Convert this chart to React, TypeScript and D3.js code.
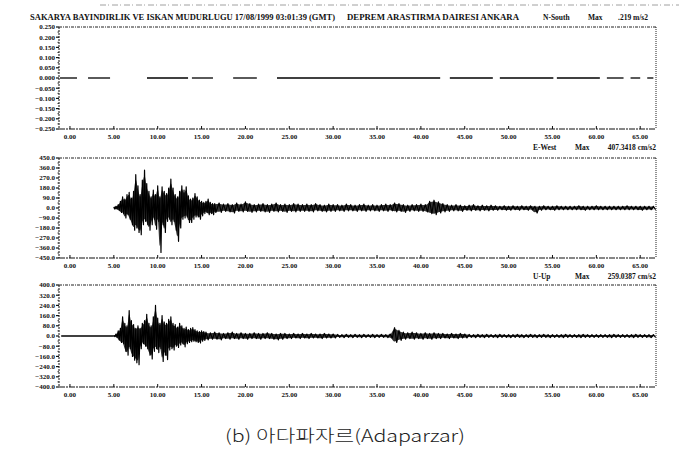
import React from "react";
import * as d3 from "d3";

const W = 679;
const H = 454;

// time axis (s)
const timeTicks = [0, 5, 10, 15, 20, 25, 30, 35, 40, 45, 50, 55, 60, 65];

// y tick labels per panel
const nsTicks = [0.25, 0.2, 0.15, 0.1, 0.05, 0, -0.05, -0.1, -0.15, -0.2, -0.25];
const ewTicks = [450, 360, 270, 180, 90, 0, -90, -180, -270, -360, -450];
const udTicks = [400, 320, 240, 160, 80, 0, -80, -160, -240, -320, -400];

// N-S component: flat trace, surviving segments of the scan [start s, end s]
const nsSegments = [
  [-1.14, 0.8], [2.06, 4.57], [8.78, 13.46], [13.9, 16.3], [18.6, 21.3],
  [23.6, 42.2], [43.3, 48.2], [49.0, 55.1], [55.5, 60.4], [61.2, 63.1],
  [63.9, 65.0], [65.8, 66.5],
];

// E-W component (gal) strong motion, 0.25 s bins from 5.0 s
const ewStrongStart = 5.0;
const ewStrongStep = 0.25;
const ewStrongHi = [10, 15, 30, 60, 100, 80, 120, 140, 90, 150, 300, 200, 120, 250, 340, 220, 150, 100, 160, 120, 200, 100, 190, 150, 130, 180, 260, 180, 120, 100, 150, 200, 160, 190, 110, 80, 90, 130, 100, 70, 60, 50, 60, 80, 50, 40, 40];
const ewStrongLo = [-10, -10, -20, -40, -50, -90, -60, -100, -150, -200, -180, -220, -240, -150, -120, -150, -200, -150, -100, -190, -120, -400, -150, -220, -120, -100, -150, -120, -200, -300, -180, -100, -90, -80, -130, -130, -100, -80, -80, -100, -70, -50, -40, -60, -50, -60, -40];
// E-W coda, 0.5 s bins from 17.0 s
const ewCodaStart = 17.0;
const ewCodaStep = 0.5;
const ewCodaHi = [
  45, 35, 40, 30, 45, 35, 55, 40, 30, 35,
  40, 30, 35, 45, 30, 35, 30, 40, 35, 30,
  35, 30, 40, 30, 25, 35, 30, 30, 25, 35,
  30, 25, 30, 35, 25, 30, 25, 30, 35, 30,
  45, 40, 30, 25, 30, 30, 35, 30, 60, 70,
  55, 40, 30, 25, 30, 25, 20, 25, 30, 20,
  25, 20, 25, 20, 15, 20, 15, 20, 15, 20,
  15, 20, 15, 15, 20, 15, 15, 20, 15, 15,
  15, 15, 20, 15, 15, 15, 20, 15, 15, 15,
  15, 15, 15, 20, 15, 15, 15, 15, 15, 15,
];
const ewCodaLo = [
  -40, -30, -35, -45, -30, -35, -30, -40, -35, -30,
  -35, -40, -30, -35, -30, -40, -30, -35, -30, -30,
  -30, -35, -25, -30, -35, -30, -30, -25, -30, -25,
  -25, -30, -25, -30, -25, -25, -30, -25, -30, -25,
  -35, -30, -40, -30, -25, -30, -30, -35, -50, -60,
  -45, -35, -30, -25, -25, -30, -20, -25, -20, -25,
  -20, -25, -20, -20, -15, -20, -20, -15, -20, -15,
  -20, -15, -45, -20, -15, -15, -20, -15, -15, -15,
  -15, -15, -15, -20, -15, -15, -15, -15, -15, -15,
  -15, -15, -15, -15, -15, -15, -20, -15, -15, -15,
];

// Up-Down component (gal)
const udPreEvent = [-1.0, 5.0];
const udStrongStart = 5.0;
const udStrongStep = 0.25;
const udStrongHi = [5, 15, 40, 60, 150, 100, 80, 200, 120, 90, 60, 80, 60, 100, 120, 170, 100, 80, 150, 240, 140, 100, 160, 110, 100, 130, 150, 100, 90, 70, 100, 80, 60, 70, 50, 60, 65, 50, 40, 35, 40, 35];
const udStrongLo = [-5, -10, -30, -50, -60, -120, -150, -100, -160, -190, -210, -225, -100, -60, -80, -100, -150, -180, -120, -100, -130, -100, -200, -150, -185, -110, -100, -110, -80, -90, -70, -60, -85, -60, -50, -45, -40, -45, -50, -55, -40, -35];
const udCodaStart = 15.5;
const udCodaStep = 0.5;
const udCodaHi = [
  30, 25, 30, 25, 20, 25, 30, 20, 25, 20,
  20, 25, 20, 20, 25, 20, 15, 20, 20, 15,
  20, 15, 20, 15, 20, 15, 15, 20, 15, 15,
  12, 10, 12, 10, 12, 10, 12, 10, 12, 10,
  12, 10, 15, 65, 45, 30, 25, 30, 25, 20,
  25, 20, 25, 20, 20, 15, 20, 15, 20, 15,
  12, 10, 12, 10, 12, 10, 10, 12, 10, 10,
  10, 12, 10, 10, 12, 10, 10, 12, 10, 10,
  10, 10, 12, 10, 10, 10, 12, 10, 10, 10,
  10, 10, 10, 12, 10, 10, 10, 10, 12, 10,
  10, 10, 10,
];
const udCodaLo = [
  -30, -25, -25, -30, -20, -25, -20, -25, -20, -25,
  -20, -20, -25, -20, -20, -25, -30, -25, -20, -20,
  -15, -20, -15, -20, -15, -15, -20, -15, -15, -15,
  -10, -12, -10, -12, -10, -12, -10, -10, -12, -10,
  -10, -12, -15, -50, -35, -25, -20, -25, -20, -25,
  -20, -25, -20, -20, -15, -20, -15, -20, -15, -15,
  -10, -12, -10, -12, -10, -10, -12, -10, -10, -12,
  -10, -10, -12, -10, -10, -12, -10, -10, -12, -10,
  -10, -12, -10, -10, -10, -12, -10, -10, -10, -10,
  -10, -10, -12, -10, -10, -10, -10, -12, -10, -10,
  -10, -12, -10,
];

const headerMain = "SAKARYA BAYINDIRLIK VE ISKAN MUDURLUGU 17/08/1999 03:01:39 (GMT)";
const headerAgency = "DEPREM ARASTIRMA DAIRESI ANKARA";
const compNames = ["N-South", "E-West", "U-Up"];
const compMax = [".219 m/s2", "407.3418 cm/s2", "259.0387 cm/s2"];
const caption = "(b) 아다파자르(Adaparzar)";

const X0 = 59;
const X1 = 656;
const x = d3.scaleLinear().domain([-1.25, 66.8]).range([X0, X1]);

type Pt = [number, number];

function zigzag(start: number, step: number, hi: number[], lo: number[]): Pt[] {
  const pts: Pt[] = [];
  hi.forEach((h, i) => {
    const t = start + i * step;
    pts.push([t, h]);
    pts.push([t + step / 2, lo[i]]);
  });
  return pts;
}

function envelope(start: number, step: number, hi: number[], lo: number[]) {
  return hi.map((h, i) => ({ t: start + i * step, hi: h * 0.85, lo: lo[i] * 0.85 }));
}

const panels = [
  { top: 27, bottom: 129, max: 0.25, ticks: nsTicks, fmt: d3.format(".3f"), hy: 20 },
  { top: 158, bottom: 258, max: 450, ticks: ewTicks, fmt: d3.format(".1f"), hy: 150 },
  { top: 285, bottom: 387, max: 400, ticks: udTicks, fmt: d3.format(".1f"), hy: 279 },
];

const labelFont = "'Liberation Serif', serif";

function Axes({ p }: { p: (typeof panels)[number] }) {
  const y = d3.scaleLinear().domain([-p.max, p.max]).range([p.bottom, p.top]);
  const minor = d3.range(p.ticks.length - 1).map((i) => (p.ticks[i] + p.ticks[i + 1]) / 2);
  return (
    <g>
      <line x1={X0} x2={X1} y1={p.top} y2={p.top} stroke="#222" strokeWidth={1} strokeDasharray="3,1,1,1" />
      <line x1={X1} x2={X1} y1={p.top} y2={p.bottom} stroke="#222" strokeWidth={1} strokeDasharray="1,1" />
      <line x1={X0} x2={X0} y1={p.top} y2={p.bottom} stroke="#111" strokeWidth={1} strokeDasharray="2,1" />
      <line x1={X0} x2={X1} y1={p.bottom} y2={p.bottom} stroke="#111" strokeWidth={1.2} strokeDasharray="6,1,2,1" />
      {p.ticks.map((v, i) => (
        <g key={"y" + i}>
          <line x1={X0 - 3} x2={X0} y1={y(v)} y2={y(v)} stroke="#111" strokeWidth={1.2} />
          <text x={X0 - 4} y={y(v)} dy="0.35em" textAnchor="end" fontSize={7} fontWeight="bold" fontFamily={labelFont} fill="#111">
            {p.fmt(v)}
          </text>
        </g>
      ))}
      {minor.map((v, i) => (
        <line key={"m" + i} x1={X0 - 1.5} x2={X0} y1={y(v)} y2={y(v)} stroke="#333" strokeWidth={1} />
      ))}
      {timeTicks.map((t, i) => (
        <g key={"x" + i}>
          <line x1={x(t)} x2={x(t)} y1={p.bottom} y2={p.bottom - 3} stroke="#111" strokeWidth={1} />
          <text x={x(t)} y={p.bottom + 10} textAnchor="middle" fontSize={7} fontWeight="bold" fontFamily={labelFont} fill="#111">
            {d3.format(".2f")(t)}
          </text>
        </g>
      ))}
    </g>
  );
}

function Trace({ p, parts, pre }: { p: (typeof panels)[number]; parts: { start: number; step: number; hi: number[]; lo: number[] }[]; pre?: number[] }) {
  const y = d3.scaleLinear().domain([-p.max, p.max]).range([p.bottom, p.top]);
  const line = d3.line<Pt>().x((d) => x(d[0])).y((d) => y(d[1]));
  const area = d3
    .area<{ t: number; hi: number; lo: number }>()
    .x((d) => x(d.t))
    .y0((d) => y(d.lo))
    .y1((d) => y(d.hi))
    .curve(d3.curveMonotoneX);
  const pts: Pt[] = [];
  const env: { t: number; hi: number; lo: number }[] = [];
  parts.forEach((s) => {
    pts.push(...zigzag(s.start, s.step, s.hi, s.lo));
    env.push(...envelope(s.start, s.step, s.hi, s.lo));
  });
  return (
    <g>
      {pre && <line x1={x(pre[0])} x2={x(pre[1])} y1={y(0)} y2={y(0)} stroke="#000" strokeWidth={1.3} />}
      <path d={area(env) || ""} fill="#000" fillOpacity={0.8} />
      <path d={line(pts) || ""} fill="none" stroke="#000" strokeWidth={1.2} strokeLinejoin="round" />
    </g>
  );
}

export default function App() {
  const p0 = panels[0];
  const yNs = d3.scaleLinear().domain([-p0.max, p0.max]).range([p0.bottom, p0.top]);
  const hdrStyle = { fontSize: 7.5, fontWeight: "bold" as const, fontFamily: labelFont, fill: "#111" };
  return (
    <svg width={W} height={H} viewBox={`0 0 ${W} ${H}`} style={{ position: "absolute", left: 0, top: 0, background: "#fff" }}>
      <rect x={0} y={0} width={W} height={H} fill="#fff" />
      <line x1={100} x2={W} y1={5} y2={5} stroke="#888" strokeWidth={0.8} strokeDasharray="6,2,1,3" />

      {/* header for first panel */}
      <text x={30} y={p0.hy} {...hdrStyle} textLength={305} lengthAdjust="spacingAndGlyphs">{headerMain}</text>
      <text x={347} y={p0.hy} {...hdrStyle} textLength={172} lengthAdjust="spacingAndGlyphs">{headerAgency}</text>

      {panels.map((p, i) => (
        <g key={"h" + i}>
          <text x={i === 0 ? 543 : 533} y={p.hy} {...hdrStyle}>{compNames[i]}</text>
          <text x={i === 0 ? 588 : 575} y={p.hy} {...hdrStyle}>Max</text>
          <text x={i === 0 ? 648 : 656} y={p.hy} textAnchor="end" {...hdrStyle}>{compMax[i]}</text>
        </g>
      ))}

      {panels.map((p, i) => (
        <Axes key={"a" + i} p={p} />
      ))}

      {/* N-S: flat trace */}
      {nsSegments.map((s, i) => (
        <line key={"ns" + i} x1={x(s[0])} x2={x(s[1])} y1={yNs(0)} y2={yNs(0)} stroke="#000" strokeWidth={1.3} />
      ))}

      <Trace
        p={panels[1]}
        parts={[
          { start: ewStrongStart, step: ewStrongStep, hi: ewStrongHi, lo: ewStrongLo },
          { start: ewCodaStart, step: ewCodaStep, hi: ewCodaHi, lo: ewCodaLo },
        ]}
      />
      <Trace
        p={panels[2]}
        pre={udPreEvent}
        parts={[
          { start: udStrongStart, step: udStrongStep, hi: udStrongHi, lo: udStrongLo },
          { start: udCodaStart, step: udCodaStep, hi: udCodaHi, lo: udCodaLo },
        ]}
      />

      <text x={345} y={442} textAnchor="middle" fontSize={17} fontFamily="'Noto Sans CJK KR', 'Noto Sans', sans-serif" fontWeight={300} fill="#222" textLength={240} lengthAdjust="spacingAndGlyphs">
        {caption}
      </text>
    </svg>
  );
}
